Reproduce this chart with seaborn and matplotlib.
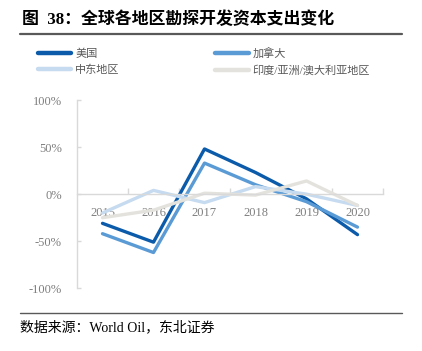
import matplotlib
matplotlib.use("Agg")
import matplotlib.pyplot as plt
import seaborn as sns
import pandas as pd
from matplotlib.lines import Line2D
from matplotlib.ticker import FixedLocator, FuncFormatter

sns.set_theme(style="white")
plt.rcParams['font.family'] = ['Liberation Serif', 'Noto Sans CJK SC', 'DejaVu Sans']

years = ["2015", "2016", "2017", "2018", "2019", "2020"]
series_names = ["美国", "加拿大", "中东地区", "印度/亚洲/澳大利亚地区"]
us = [-31, -51, 48, 23, -5, -43]
canada = [-42, -62, 33, 10, -8, -35]
middle_east = [-20, 4, -9, 8, 0, -12]
asia_pac = [-25, -17, 1, -1, 14, -12]
colors = ["#0B5BAA", "#5B9BD5", "#C6DBEF", "#E4E2DD"]

rows = []
for name, vals in zip(series_names, [us, canada, middle_east, asia_pac]):
    for y, v in zip(years, vals):
        rows.append({"year": y, "value": v, "region": name})
df = pd.DataFrame(rows)

W, H = 422, 351
fig = plt.figure(figsize=(W / 100, H / 100), dpi=100)
ax = fig.add_axes([77 / W, 1 - 288.3 / H, (383 - 77) / W, (288.3 - 100) / H])

sns.lineplot(data=df, x="year", y="value", hue="region", hue_order=series_names,
             palette=colors, linewidth=2.4, ax=ax, legend=False, sort=False)

ax.set_xlim(-0.5, 5.5)
ax.set_ylim(-100, 100)
ax.set_xlabel("")
ax.set_ylabel("")
ax.set_facecolor("white")
ax.set_axisbelow(True)

for s in ["top", "right"]:
    ax.spines[s].set_visible(False)
ax.spines["left"].set_color("#D9D9D9")
ax.spines["left"].set_linewidth(1.0)
ax.spines["bottom"].set_position(("data", 0))
ax.spines["bottom"].set_color("#D9D9D9")
ax.spines["bottom"].set_linewidth(1.0)

ax.yaxis.set_major_locator(FixedLocator([-100, -50, 0, 50, 100]))
ax.yaxis.set_major_formatter(FuncFormatter(lambda v, p: f"{int(v)}%"))
ax.tick_params(axis="y", direction="in", length=3, width=1, color="#D9D9D9",
               labelsize=9, labelcolor="#7F7F7F", pad=11, left=True)

ax.set_xticks(range(len(years)))
ax.set_xticklabels(years)
ax.set_xticks([i + 0.5 for i in range(len(years))], minor=True)
ax.tick_params(axis="x", which="major", length=0, labelsize=9, labelcolor="#7F7F7F", pad=9)
ax.tick_params(axis="x", which="minor", direction="in", length=4, width=1, color="#D9D9D9", bottom=True)
ax.grid(False)

# legend
handles = [Line2D([], [], color=c, linewidth=3.2, solid_capstyle="round") for c in colors]
order = [0, 2, 1, 3]
fig.legend([handles[i] for i in order], [series_names[i] for i in order],
           loc="upper left", bbox_to_anchor=(38 / W, 1 - 48 / H), ncol=2,
           frameon=False, fontsize=8, handlelength=3.0, handletextpad=0.35,
           columnspacing=8.6, labelspacing=0.5, borderpad=0, borderaxespad=0,
           labelcolor="#595959")

# title and rules
fig.text(22 / W, 1 - 20 / H, "图  38：全球各地区勘探开发资本支出变化", fontsize=12.2,
         fontweight="bold", ha="left", va="center", color="#000000")
fig.add_artist(Line2D([20 / W, 402 / W], [1 - 34 / H, 1 - 34 / H], color="#595959", linewidth=1.6))
fig.add_artist(Line2D([20 / W, 402 / W], [1 - 313 / H, 1 - 313 / H], color="#595959", linewidth=1.0))
fig.text(20 / W, 1 - 327 / H, "数据来源：World Oil，东北证券", fontsize=10,
         ha="left", va="center", color="#000000")

fig.savefig("out.png", dpi=100, facecolor="white")
